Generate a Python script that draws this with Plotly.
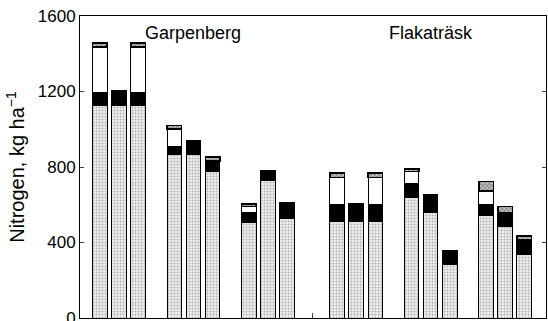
import plotly.graph_objects as go

# Nitrogen pools (kg/ha) for six stand groups of three plots, two sites
sites = ["Garpenberg", "Flakaträsk"]
groups_per_site = 3
bars_per_group = 3

# segment heights, bottom to top (None = segment absent)
pool_soil = [1128, 1128, 1128, 867, 867, 775, 505, 726, 528,
             510, 510, 510, 637, 561, 281, 545, 486, 334]
pool_black = [68, 76, 68, 40, 71, 58, 55, 58, 85,
              93, 98, 93, 77, 91, 75, 57, 72, 78]
pool_white = [240, None, 240, 95, None, None, 30, None, None,
              142, None, 142, 61, None, None, 70, None, None]
pool_top = [20, None, 20, 18, None, 20, 14, None, None,
            22, None, 22, 14, None, None, 50, 32, 22]

y_ticks = [0, 400, 800, 1200, 1600]

# bar placement along the x axis (one unit = one bar slot)
first_center = 2.04
group_step = 3.9
site_gap = 0.72
bar_width = 0.76

xs = []
group_centers = []
for s in range(len(sites)):
    for g in range(groups_per_site):
        gi = s * groups_per_site + g
        c = first_center + gi * group_step + s * site_gap
        group_centers.append(c)
        for b in range(bars_per_group):
            xs.append(c + (b - 1))

line = dict(color="black", width=1)

fig = go.Figure()
fig.add_bar(x=xs, y=pool_soil, width=bar_width,
            marker=dict(color="#ededed", line=line,
                        pattern=dict(shape=".", fgcolor="#707070",
                                     bgcolor="#ededed", size=3, solidity=0.3)))
fig.add_bar(x=xs, y=pool_black, width=bar_width,
            marker=dict(color="black", line=line))
fig.add_bar(x=xs, y=pool_white, width=bar_width,
            marker=dict(color="white", line=line))
fig.add_bar(x=xs, y=pool_top, width=bar_width,
            marker=dict(color="#bbbbbb", line=dict(color="black", width=1.5),
                        pattern=dict(shape="x", fgcolor="#222222",
                                     bgcolor="#d0d0d0", size=3, solidity=0.5)))

# site names above the middle group of each site
for s, name in enumerate(sites):
    fig.add_annotation(x=group_centers[s * groups_per_site + 1], y=1510,
                       text=name, showarrow=False, xanchor="center",
                       yanchor="middle",
                       font=dict(size=18, color="black"))

site_split = (group_centers[2] + group_centers[3]) / 2

fig.update_layout(
    width=548, height=321,
    margin=dict(l=80, r=2, t=16, b=3),
    barmode="stack",
    showlegend=False,
    plot_bgcolor="white",
    paper_bgcolor="white",
    font=dict(family="Liberation Sans, Arial, sans-serif", color="black", size=17),
)
fig.update_xaxes(range=[0, 24.4], showline=True, linecolor="black", linewidth=1,
                 mirror=True, tickvals=[site_split], ticks="inside", ticklen=5,
                 showticklabels=False, showgrid=False, zeroline=False,
                 automargin=False)
fig.update_yaxes(range=[0, 1600], tickvals=y_ticks, ticks="inside", ticklen=4,
                 showline=True, linecolor="black", linewidth=1, mirror="ticks",
                 showgrid=False, zeroline=False, tickfont=dict(size=17),
                 ticklabeloverflow="allow", automargin=False,
                 title=dict(text="Nitrogen, kg ha<sup>−1</sup>", font=dict(size=20),
                            standoff=7))

fig.write_html("out.html")
